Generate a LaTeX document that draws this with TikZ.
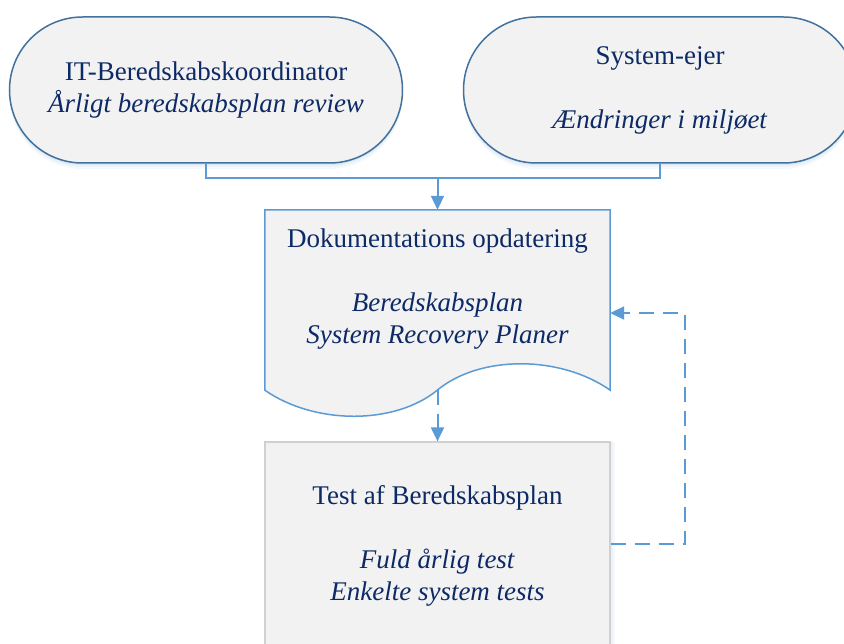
\documentclass[tikz,border=0pt]{standalone}
\usepackage{fontspec}
\setmainfont{Liberation Serif}
\usetikzlibrary{arrows.meta}
\definecolor{txt}{HTML}{0D2A66}
\definecolor{fillg}{HTML}{F2F2F2}
\definecolor{termline}{HTML}{41719C}
\definecolor{conn}{HTML}{5B9BD5}
\definecolor{boxline}{HTML}{D0D0D0}
\tikzset{
  x=1pt, y=-1pt,
  lbl/.style={text=txt, font=\fontsize{27}{32}\selectfont, align=center, inner sep=0pt},
  softdown/.style={
    preaction={fill=conn, fill opacity=0.05, transform canvas={yshift=-6pt}},
    preaction={fill=conn, fill opacity=0.07, transform canvas={yshift=-4pt}},
    preaction={fill=conn, fill opacity=0.10, transform canvas={yshift=-2pt}}},
  softright/.style={
    preaction={fill=conn, fill opacity=0.05, transform canvas={xshift=5pt}},
    preaction={fill=conn, fill opacity=0.07, transform canvas={xshift=3pt}}},
  terminal/.style={softdown, draw=termline, line width=1.5pt, fill=fillg, rounded corners=73pt,
    minimum width=393pt, minimum height=146pt, text=txt, font=\fontsize{27}{32}\selectfont, align=center},
  docshape/.style={draw=conn, line width=1.5pt, fill=fillg},
  testbox/.style={softright, draw=boxline, line width=1.2pt, fill=fillg, minimum width=345pt, minimum height=204pt, inner sep=0pt},
  conline/.style={draw=conn, line width=2pt},
  conarrow/.style={conline, -{Triangle[width=13pt,length=14pt]}},
  dasharrow/.style={conarrow, dash pattern=on 15pt off 9pt}
}
\begin{document}
\begin{tikzpicture}
\useasboundingbox (0,0) rectangle (844,644);
\clip (0,0) rectangle (844,644);
\fill[white] (0,0) rectangle (844,644);

% terminals
\node[terminal] (t1) at (206,90) {IT-Beredskabskoordinator\\\textit{Årligt beredskabsplan review}};
\node[terminal] (t2) at (660,90) {System-ejer\\[32pt]\textit{Ændringer i miljøet}};

% document shape
\node[minimum width=345pt, minimum height=180pt, inner sep=0pt] (doc) at (437.5,300) {};
\draw[docshape] (doc.north west) -- (doc.north east) -- (doc.south east)
  .. controls (560,355) and (480,355) .. (437.5,390)
  .. controls (395,425) and (315,425) .. (doc.south west) -- cycle;
\coordinate (docbot) at (437.5,390);
\node[lbl] (doctext) at (437.5,289) {Dokumentations opdatering\\[32pt]\textit{Beredskabsplan}\\\textit{System Recovery Planer}};

% test box
\node[testbox] (test) at (437.5,544) {};
\node[lbl] (testtext) at (437.5,546) {Test af Beredskabsplan\\[32pt]\textit{Fuld årlig test}\\\textit{Enkelte system tests}};

% connectors
\coordinate (j) at (437.5,178);
\draw[conline] (t1.south) |- (j);
\draw[conline] (t2.south) |- (j);
\draw[conarrow] (j) -- (doc.north);
\draw[dasharrow] (docbot) -- (test.north);
\coordinate (fb) at (685,313);
\draw[dasharrow] (test.east) -| (fb) -- (fb -| doc.east);
\end{tikzpicture}
\end{document}
